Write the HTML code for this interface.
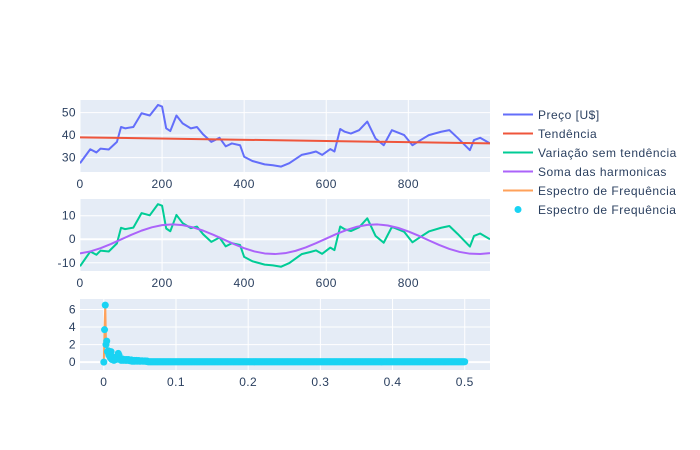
<!DOCTYPE html>
<html><head><meta charset="utf-8">
<style>
body{margin:0;background:#fff}
svg{display:block;font-family:"Liberation Sans",sans-serif}
</style></head>
<body>
<svg id="chart" width="700" height="450"></svg>
<script>
// ---- data ----
const priceIdx = [0,25,40,50,70,90,100,110,130,150,170,190,200,210,220,235,250,270,285,300,320,340,355,370,390,400,420,450,470,490,510,540,560,575,590,610,620,634,645,660,680,700,720,740,760,790,810,830,850,880,900,920,950,960,975,999];
const priceVal = [27.5,33.7,32.3,34,33.6,37,43.6,43,43.6,49.7,48.7,53.4,52.7,43,41.8,48.7,45.2,43,43.6,40.3,37,38.8,35,36.3,35.5,30.4,28.5,27,26.6,26,27.5,31.2,32,32.7,31.2,33.8,32.7,42.7,41.5,40.7,42.2,46,38.5,35.5,42.2,40,35.5,37.8,40,41.5,42.2,38.8,33.3,37.8,38.8,36.3];
const trendStart = 39.0, trendEnd = 36.3;
const harmIdx = [0,25,50,75,100,125,150,175,200,225,250,275,300,325,350,375,400,425,450,475,500,525,550,575,600,625,650,675,700,725,750,775,800,825,850,875,900,925,950,975,999];
const harmVal = [-6.04,-5.19,-3.82,-2.06,-0.1,1.87,3.66,5.07,5.99,6.3,5.99,5.07,3.66,1.87,-0.1,-2.06,-3.82,-5.19,-6.04,-6.3,-5.92,-4.95,-3.49,-1.68,0.3,2.25,3.97,5.3,6.1,6.29,5.85,4.83,3.33,1.51,-0.49,-2.43,-4.11,-5.4,-6.14,-6.29,-5.9];
const specHead = [0,3.7,6.5,2.0,2.4,1.2,1.3,0.8,1.2,0.5,1.2,0.3,0.6,0.4,0.2,0.3,0.5,0.3,0.6,0.4,1.0,0.8,0.3,0.4,0.2,0.3,0.35,0.2,0.3,0.25,0.2,0.3,0.2,0.25,0.3,0.2,0.15,0.2,0.25,0.1,0.15,0.1,0.2,0.1,0.15,0.2,0.1,0.12,0.18,0.1,0.15,0.1,0.12,0.15,0.1,0.12,0.1,0.14,0.1,0.08,0.12];
const specTail = 0.04;
const ticks1 = [30,40,50], ticks2 = [-10,0,10], ticks3 = [0,2,4,6];
const xticksTime = [0,200,400,600,800];
const xticksFreq = [0,0.1,0.2,0.3,0.4,0.5];

const NS="http://www.w3.org/2000/svg";
const svg=document.getElementById('chart');
function mk(tag,attrs,parent){const e=document.createElementNS(NS,tag);for(const k in attrs)e.setAttribute(k,attrs[k]);(parent||svg).appendChild(e);return e;}
const L=80,R=490;
function axis(x0,x1,y0,y1,top,bot){return {x:v=>L+(v-x0)/(x1-x0)*(R-L),y:v=>bot-(v-y0)/(y1-y0)*(bot-top),top,bot};}
const A1=axis(0,999,23.6,55.6,100,172);
const A2=axis(0,999,-13.5,17.1,199,271);
const A3=axis(-0.033,0.535,-0.9,7.2,299,370);

function panel(A,yt,xt,name,fmt){
  const g=mk('g',{});
  
  
  const bg=mk('rect',{x:L,y:A.top,width:R-L,height:A.bot-A.top,fill:'#E5ECF6'},g);
  
  
  xt.forEach(v=>{const x=A.x(v);
    mk('line',{x1:x,x2:x,y1:A.top,y2:A.bot,stroke:'#fff','stroke-width':1},g);
    const t=mk('text',{x:x,y:A.bot+16,'text-anchor':'middle','font-size':12,fill:'#2a3f5f','letter-spacing':0.4},g);
    t.textContent=fmt(v);
    
    });
  yt.forEach(v=>{const y=A.y(v);
    mk('line',{x1:L,x2:R,y1:y,y2:y,stroke:'#fff','stroke-width':v===0?2:1},g);
    const t=mk('text',{x:76,y:y+4,'text-anchor':'end','font-size':12,fill:'#2a3f5f','letter-spacing':0.4},g);
    t.textContent=v;
    
    });
  return g;
}
function clip(id,A){const cp=mk('clipPath',{id});mk('rect',{x:L,y:A.top,width:R-L,height:A.bot-A.top},cp);}
function poly(A,xs,ys,color,name,w,cl){const p=mk('polyline',{points:xs.map((x,i)=>A.x(x)+','+A.y(ys[i])).join(' '),fill:'none',stroke:color,'stroke-width':w||2,'clip-path':'url(#'+cl+')','stroke-linejoin':'round'});
  
  return p;}

panel(A1,ticks1,xticksTime,'price-panel',v=>v);
panel(A2,ticks2,xticksTime,'detrended-panel',v=>v);
panel(A3,ticks3,xticksFreq,'spectrum-panel',v=>v);
clip('c1',A1);clip('c2',A2);clip('c3',A3);

const trend=i=>trendStart+(trendEnd-trendStart)*i/999;
poly(A1,priceIdx,priceVal,'#636efa','price-line',2,'c1');
poly(A1,[0,999],[trendStart,trendEnd],'#EF553B','trend-line',2,'c1');
poly(A2,priceIdx,priceVal.map((v,i)=>v-trend(priceIdx[i])),'#00cc96','detrended-line',2,'c2');
poly(A2,harmIdx,harmVal,'#ab63fa','harmonics-line',2,'c2');

const freqs=[],amps=[];
for(let k=0;k<=500;k++){freqs.push(k/1000);amps.push(k<specHead.length?specHead[k]:specTail);}
poly(A3,freqs,amps,'#FFA15A','spectrum-line',2,'c3');
freqs.forEach((f,i)=>{const c=mk('circle',{cx:A3.x(f),cy:A3.y(amps[i]),r:3.5,fill:'#19d3f3'});
  
  });

const leg=[['Preço [U$]','#636efa'],['Tendência','#EF553B'],['Variação sem tendência','#00cc96'],['Soma das harmonicas','#ab63fa'],['Espectro de Frequência','#FFA15A'],['Espectro de Frequência','#19d3f3']];
leg.forEach((e,i)=>{const y=114.5+i*19;
  const g=mk('g',{});
  
  
  if(i<5)mk('line',{x1:503,x2:533,y1:y,y2:y,stroke:e[1],'stroke-width':2},g);
  else mk('circle',{cx:518,cy:y,r:3.5,fill:e[1]},g);
  const t=mk('text',{x:538,y:y+4.5,'font-size':12,fill:'#2a3f5f','letter-spacing':0.5},g);t.textContent=e[0];});
</script>
</body></html>
